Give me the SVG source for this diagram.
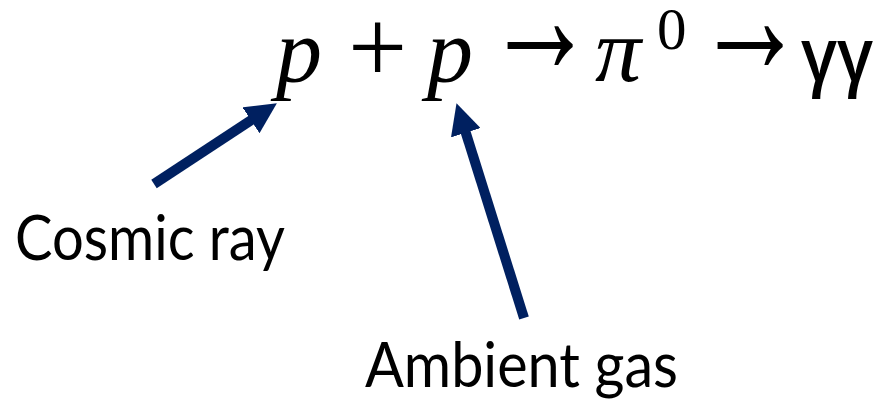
<svg xmlns="http://www.w3.org/2000/svg" width="884" height="400" viewBox="0 0 884 400">
<defs>
<style>
.m{font-family:"Liberation Serif",serif;fill:#000}
.i{font-style:italic}
.ar{font-family:"Liberation Serif",serif;font-size:110px;fill:#000}
.lbl{font-family:Lato,"Open Sans",sans-serif;font-size:61px;fill:#000}
.arr{stroke:#002060;stroke-width:10;fill:none}
</style>
<marker id="ah" markerUnits="userSpaceOnUse" markerWidth="31" markerHeight="31" viewBox="0 0 31 31" refX="6" refY="15.5" orient="auto">
<path d="M0,0 L31,15.5 L0,31 z" fill="#002060"/>
</marker>
</defs>
<rect width="884" height="400" fill="#fff"/>
<g id="equation">
<text class="m i" x="276" y="82" font-size="92">p</text>
<text class="m" x="348" y="83" font-size="105">+</text>
<text class="m i" x="427" y="82" font-size="92">p</text>
<text class="ar" transform="translate(485,73) scale(1,1.5)">→</text>
<text class="m i" x="595" y="81" font-size="92">π</text>
<text class="m" x="657" y="49" font-size="59">0</text>
<text class="ar" transform="translate(695,73) scale(1,1.5)">→</text>
<text x="801" y="81" font-family="Open Sans,sans-serif" font-weight="600" font-size="75" textLength="72" lengthAdjust="spacingAndGlyphs">γγ</text>
</g>
<g id="cosmic-ray">
<text class="lbl" x="15" y="260" textLength="270" lengthAdjust="spacingAndGlyphs">Cosmic ray</text>
</g>
<g id="ambient-gas">
<text class="lbl" x="365" y="387" textLength="313" lengthAdjust="spacingAndGlyphs">Ambient gas</text>
</g>
<g id="connectors">
<line class="arr" x1="154" y1="184" x2="256" y2="117" marker-end="url(#ah)"/>
<line class="arr" x1="524" y1="318" x2="464" y2="127" marker-end="url(#ah)"/>
</g>
</svg>
